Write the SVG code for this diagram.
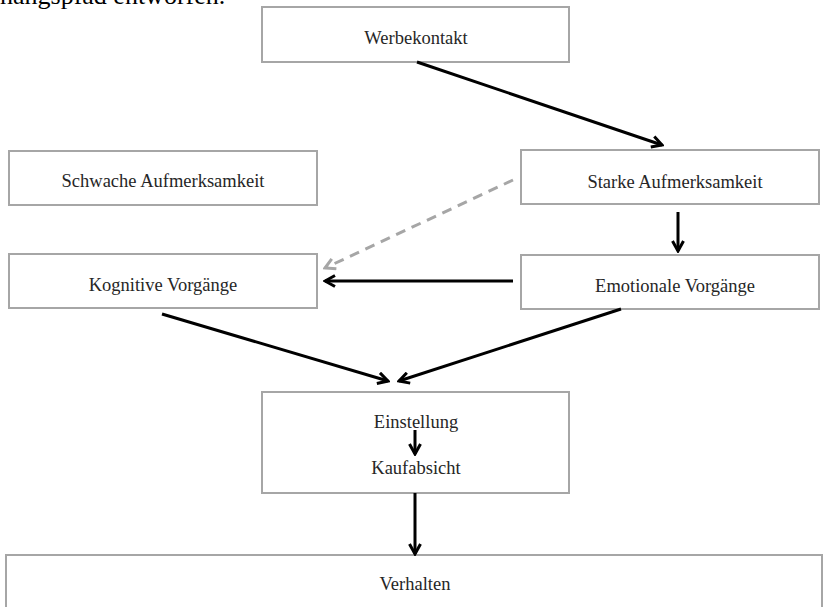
<svg xmlns="http://www.w3.org/2000/svg" width="824" height="607" viewBox="0 0 824 607">
<defs>
<style>
.box{fill:#fff;stroke:#a6a6a6;stroke-width:2}
.lbl{font-family:"Liberation Serif","Times New Roman",serif;font-size:18.5px;fill:#262626;text-anchor:middle}
.arr{fill:none;stroke:#000;stroke-width:3}
.dash{fill:none;stroke:#a6a6a6;stroke-width:3;stroke-dasharray:10,7}
</style>
<marker id="ah" viewBox="0 0 14 14" refX="12" refY="7" markerWidth="14" markerHeight="14" markerUnits="userSpaceOnUse" orient="auto">
<path d="M2,1.5 L12,7 L2,12.5" fill="none" stroke="#000" stroke-width="3"/>
</marker>
<marker id="ahg" viewBox="0 0 14 14" refX="12" refY="7" markerWidth="14" markerHeight="14" markerUnits="userSpaceOnUse" orient="auto">
<path d="M2,1.5 L12,7 L2,12.5" fill="none" stroke="#a6a6a6" stroke-width="3"/>
</marker>
</defs>
<rect width="824" height="607" fill="#fff"/>
<text x="0" y="4" style="font-family:'Liberation Serif','Times New Roman',serif;font-size:26px;fill:#000">hangspfad entworfen.</text>

<g id="werbekontakt"><rect class="box" x="262" y="7" width="307" height="55"/><text class="lbl" x="416" y="44">Werbekontakt</text></g>
<g id="schwache"><rect class="box" x="9" y="151" width="308" height="54"/><text class="lbl" x="163" y="187">Schwache Aufmerksamkeit</text></g>
<g id="starke"><rect class="box" x="521" y="150" width="298" height="54"/><text class="lbl" x="675" y="188">Starke Aufmerksamkeit</text></g>
<g id="kognitiv"><rect class="box" x="9" y="254" width="308" height="54"/><text class="lbl" x="163" y="291">Kognitive Vorgänge</text></g>
<g id="emotional"><rect class="box" x="521" y="255" width="298" height="54"/><text class="lbl" x="675" y="292">Emotionale Vorgänge</text></g>
<g id="einstellung"><rect class="box" x="262" y="392" width="307" height="101"/><text class="lbl" x="416" y="428">Einstellung</text><text class="lbl" x="416" y="474">Kaufabsicht</text></g>
<g id="verhalten"><rect class="box" x="6" y="555" width="816" height="70"/><text class="lbl" x="415" y="590">Verhalten</text></g>

<g id="connectors">
<line class="arr" x1="417" y1="62" x2="662" y2="145" marker-end="url(#ah)"/>
<line class="arr" x1="678" y1="212" x2="678" y2="251" marker-end="url(#ah)"/>
<line class="dash" x1="513" y1="180" x2="325" y2="268" marker-end="url(#ahg)"/>
<line class="arr" x1="513" y1="281" x2="325" y2="281" marker-end="url(#ah)"/>
<line class="arr" x1="162" y1="314" x2="388" y2="381" marker-end="url(#ah)"/>
<line class="arr" x1="621" y1="309" x2="399" y2="381" marker-end="url(#ah)"/>
<line class="arr" x1="415" y1="430" x2="415" y2="454" marker-end="url(#ah)"/>
<line class="arr" x1="415" y1="493" x2="415" y2="554" marker-end="url(#ah)"/>
</g>
</svg>
